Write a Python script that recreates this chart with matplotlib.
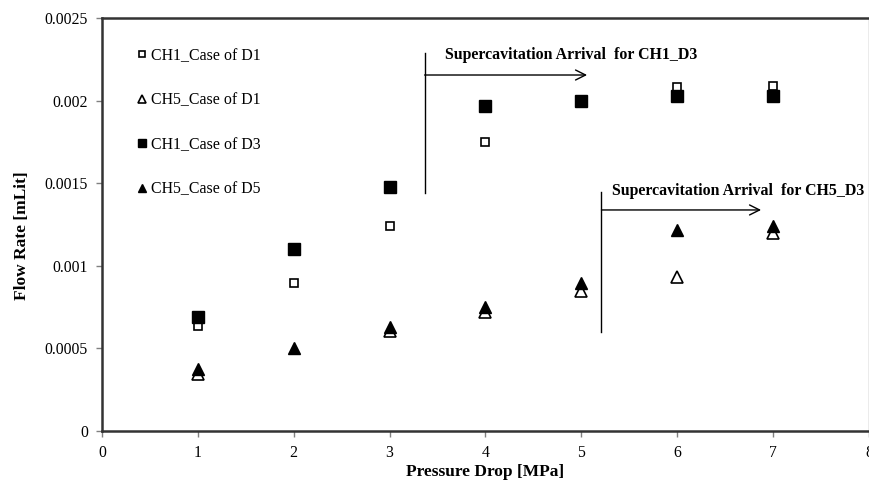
import numpy as np
import matplotlib
matplotlib.use('Agg')
import matplotlib.pyplot as plt

plt.rcParams['font.family'] = ['Liberation Serif', 'DejaVu Serif']

# pressure drop [MPa]
pressure = [1, 2, 3, 4, 5, 6, 7]

# flow rates [mLit] (nan = not shown)
ch1_d1 = [0.000636, 0.000898, 0.00124, 0.00175, np.nan, 0.00208, 0.00209]
ch5_d1 = [0.000345, np.nan, 0.000605, 0.000722, 0.000847, 0.000932, 0.00120]
ch1_d3 = [0.00069, 0.00110, 0.00148, 0.00197, 0.00200, 0.00203, 0.00203]
ch5_d5 = [0.000375, 0.000502, 0.000631, 0.000749, 0.000894, 0.001217, 0.00124]

fig = plt.figure(figsize=(8.7, 4.83), dpi=100)
ax = fig.add_axes([0.1172, 0.1077, 0.8816, 0.855])

ax.plot(pressure, ch1_d1, 's', ls='none', ms=6, mfc='white', mec='black',
        mew=1.2, label='CH1_Case of D1')
ax.plot(pressure, ch5_d1, '^', ls='none', ms=8, mfc='white', mec='black',
        mew=1.2, label='CH5_Case of D1')
ax.plot(pressure, ch1_d3, 's', ls='none', ms=8.5, color='black',
        label='CH1_Case of D3')
ax.plot(pressure, ch5_d5, '^', ls='none', ms=9, color='black',
        label='CH5_Case of D5')

# supercavitation markers
ax.plot([3.365, 3.365], [0.00144, 0.002288], color='black', lw=1)
ax.annotate('', xy=(5.06, 0.002155), xytext=(3.365, 0.002155),
            arrowprops=dict(arrowstyle='->', color='black', lw=1,
                            mutation_scale=18, shrinkA=0, shrinkB=0))
ax.text(3.58, 0.002276, 'Supercavitation Arrival  for CH1_D3',
        fontsize=11.4, fontweight='bold', va='center', ha='left')

ax.plot([5.21, 5.21], [0.000599, 0.001447], color='black', lw=1)
ax.annotate('', xy=(6.875, 0.001338), xytext=(5.21, 0.001338),
            arrowprops=dict(arrowstyle='->', color='black', lw=1,
                            mutation_scale=18, shrinkA=0, shrinkB=0))
ax.text(5.32, 0.001453, 'Supercavitation Arrival  for CH5_D3',
        fontsize=11.4, fontweight='bold', va='center', ha='left')

ax.set_xlim(0, 8)
ax.set_ylim(0, 0.0025)
ax.set_xticks(range(0, 9))
ax.set_yticks([0, 0.0005, 0.001, 0.0015, 0.002, 0.0025])
ax.set_yticklabels(['0', '0.0005', '0.001', '0.0015', '0.002', '0.0025'])
ax.tick_params(direction='out', length=4, width=1, color='#808080',
               labelsize=11.3, pad=6)

for side in ['left', 'bottom', 'top']:
    ax.spines[side].set_linewidth(1.8)
    ax.spines[side].set_color('#333333')
ax.spines['right'].set_linewidth(1)
ax.spines['right'].set_color('#999999')

ax.set_xlabel('Pressure Drop [MPa]', fontsize=12.5, fontweight='bold',
              labelpad=2)
ax.set_ylabel('Flow Rate [mLit]', fontsize=12.5, fontweight='bold')
ax.yaxis.set_label_coords(-0.094, 0.472)

leg = ax.legend(loc='upper left', bbox_to_anchor=(0.024, 0.962),
                frameon=False, fontsize=11.4, labelspacing=1.8,
                handletextpad=0.15, handlelength=0.9, markerscale=0.7)

fig.savefig('out.png', dpi=100)
